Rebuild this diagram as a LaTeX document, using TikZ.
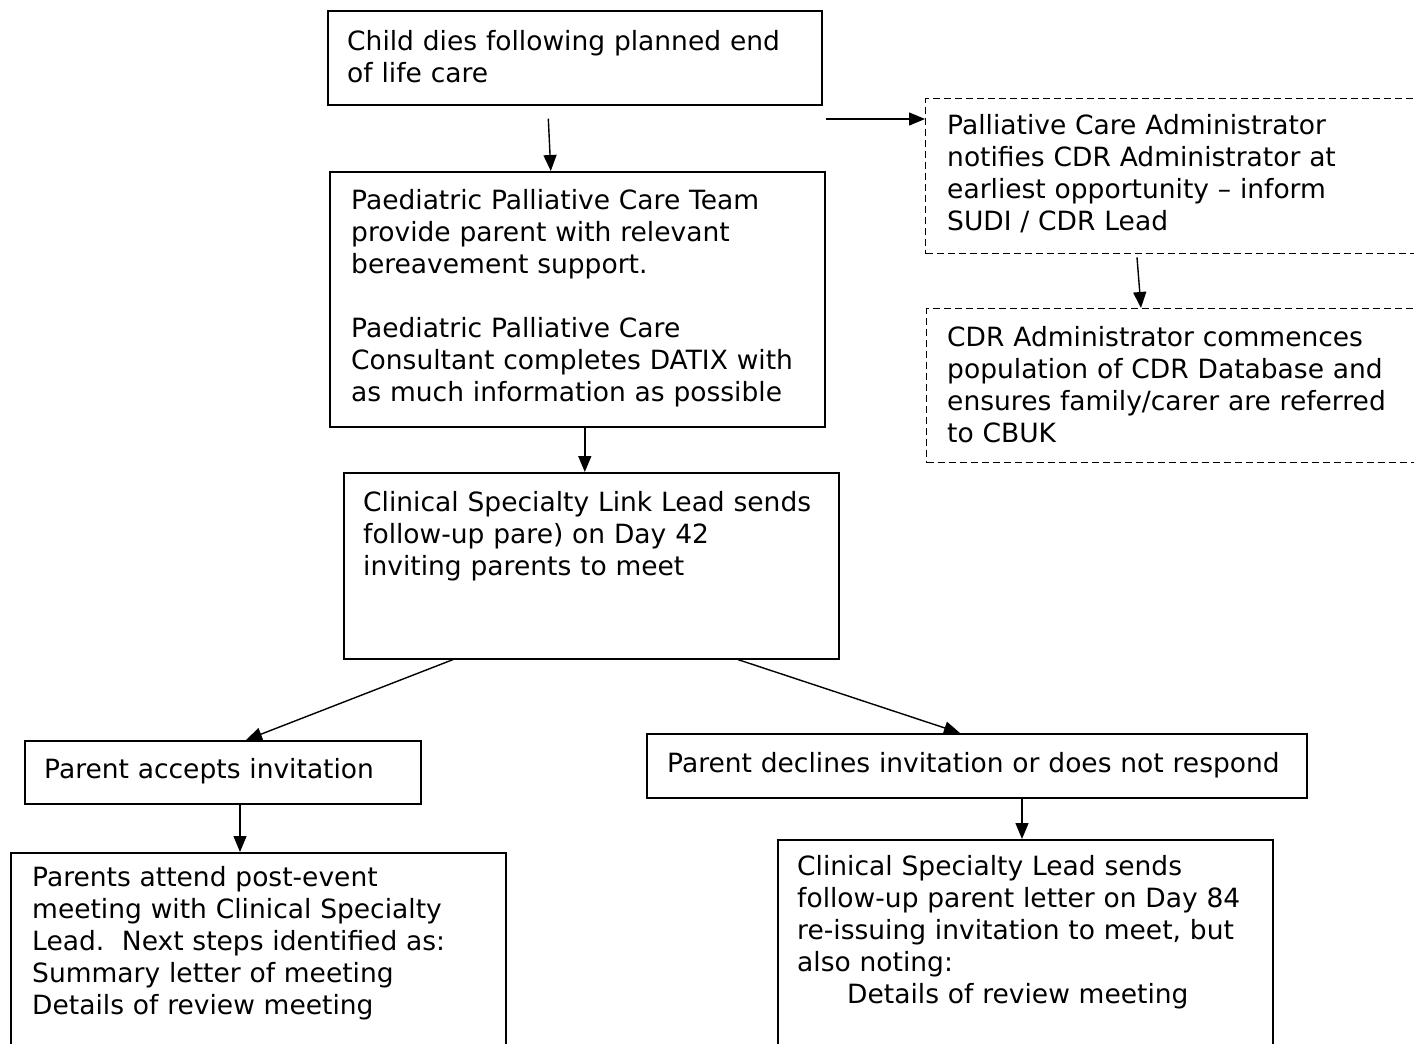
\documentclass[tikz,border=0pt]{standalone}
\usepackage{fontspec}
\setmainfont{DejaVu Sans}
\usetikzlibrary{arrows.meta,calc}
\tikzset{
  bx/.style={draw, line width=1.6pt, inner sep=0pt, anchor=north west},
  dbx/.style={bx, dash pattern=on 7pt off 4pt, line width=1.4pt},
  txt/.style={inner sep=0pt, anchor=base west, align=left, text width=760pt,
              font=\fontsize{26.5}{32}\selectfont},
  arr/.style={-{Triangle[length=16pt,width=13pt]}, line width=1.4pt},
}
\begin{document}
\begin{tikzpicture}[x=1pt,y=-1pt]
\path[use as bounding box, clip] (0,0) rectangle (1414,1044);
\fill[white] (0,0) rectangle (1414,1044);

% boxes
\node[bx, minimum width=494pt, minimum height=94pt] (child) at (327,10) {};
\node[bx, minimum width=495pt, minimum height=255pt] (ppct) at (329,171) {};
\node[bx, minimum width=495pt, minimum height=186pt] (cslink) at (343,472) {};
\node[dbx, minimum width=540pt, minimum height=155pt] (pca) at (925,98) {};
\node[dbx, minimum width=540pt, minimum height=154pt] (cdr) at (926,308) {};
\node[bx, minimum width=396pt, minimum height=63pt] (accept) at (24,740) {};
\node[bx, minimum width=660pt, minimum height=64pt] (decline) at (646,733) {};
\node[bx, minimum width=495pt, minimum height=230pt] (attend) at (10,852) {};
\node[bx, minimum width=495pt, minimum height=230pt] (resend) at (777,839) {};

% texts
\node[txt] (child-t) at (347,50) {Child dies following planned end\\of life care};
\node[txt] (ppct-t) at (351,209) {Paediatric Palliative Care Team\\provide parent with relevant\\bereavement support.\\[32pt]Paediatric Palliative Care\\Consultant completes DATIX with\\as much information as possible};
\node[txt] (cslink-t) at (363,511) {Clinical Specialty Link Lead sends\\follow-up pare) on Day 42\\inviting parents to meet};
\node[txt] (pca-t) at (947,134) {Palliative Care Administrator\\notifies CDR Administrator at\\earliest opportunity – inform\\SUDI / CDR Lead};
\node[txt] (cdr-t) at (947,346) {CDR Administrator commences\\population of CDR Database and\\ensures family/carer are referred\\to CBUK};
\node[txt] (accept-t) at (44,778) {Parent accepts invitation};
\node[txt] (decline-t) at (667,772) {Parent declines invitation or does not respond};
\node[txt] (attend-t) at (32,886) {Parents attend post-event\\meeting with Clinical Specialty\\Lead.\ \ Next steps identified as:\\Summary letter of meeting\\Details of review meeting};
\node[txt] (resend-t) at (797,875) {Clinical Specialty Lead sends\\follow-up parent letter on Day 84\\re-issuing invitation to meet, but\\also noting:\\\hspace*{50pt}Details of review meeting};

% connectors
\draw[arr] ([xshift=-26.5pt,yshift=-13pt]child.south) -- ([xshift=-26.5pt]ppct.north);
\coordinate (hs) at (826,119);
\draw[arr] (hs) -- (hs -| pca.west);
\draw[arr] ([xshift=212pt,yshift=-3pt]pca.south west) -- ([xshift=215pt]cdr.north west);
\draw[arr] ([xshift=7.5pt]ppct.south) -- ([xshift=-6.5pt]cslink.north);
\draw[arr] ([xshift=110pt]cslink.south west) -- ([xshift=222pt]accept.north west);
\draw[arr] ([xshift=395pt]cslink.south west) -- ([xshift=314pt]decline.north west);
\draw[arr] ([xshift=216pt]accept.south west) -- ([xshift=230pt]attend.north west);
\draw[arr] ([xshift=376pt]decline.south west) -- ([xshift=245pt]resend.north west);
\end{tikzpicture}
\end{document}
